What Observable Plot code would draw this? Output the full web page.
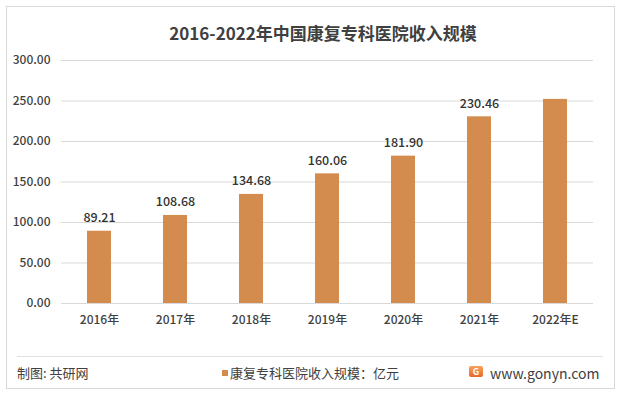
<!DOCTYPE html>
<html>
<head>
<meta charset="utf-8">
<script src="https://cdn.jsdelivr.net/npm/d3@7"></script>
<script src="https://cdn.jsdelivr.net/npm/@observablehq/plot@0.6"></script>
<style>
  html, body { margin: 0; padding: 0; background: #fff; }
  #wrap { position: relative; width: 620px; height: 394px; overflow: hidden; font-family: "Noto Sans CJK SC", "Noto Sans", sans-serif; }
  #frame { position: absolute; left: 6px; top: 6px; width: 607px; height: 381px; border: 1px solid #d9d9d9; }
  #title { position: absolute; left: 0; width: 646px; top: 20px; text-align: center; font-size: 17px; font-weight: bold; color: #404040; line-height: 26px; }
  #chart { position: absolute; left: 0; top: 40px; }
  #sep { position: absolute; left: 17px; width: 586px; top: 356px; border-top: 1px solid #e0e0e0; }
  .foot { position: absolute; top: 364px; font-size: 13px; line-height: 18px; color: #404040; }
  #sq { display: inline-block; width: 6px; height: 6px; background: #D48B4E; margin-right: 2px; vertical-align: 2px; }
  #logo { position: absolute; left: 469px; top: 366px; width: 14px; height: 11px; background: linear-gradient(#F7A35C, #E8692A); border-radius: 2px; color: #fff; font-size: 9px; line-height: 11px; text-align: center; font-weight: bold; }
</style>
</head>
<body>
<div id="wrap">
  <div id="frame"></div>
  <div id="title"></div>
  <div id="chart"></div>
  <div id="sep"></div>
  <div class="foot" style="left:17px;">制图: 共研网</div>
  <div class="foot" style="left:222px;"><span id="sq"></span>康复专科医院收入规模：亿元</div>
  <div id="logo">G</div>
  <div class="foot" style="left:490px; font-size:14px;">www.gonyn.com</div>
</div>
<script>
const title = "2016-2022年中国康复专科医院收入规模";
const years = ["2016年", "2017年", "2018年", "2019年", "2020年", "2021年", "2022年E"];
const values = [89.21, 108.68, 134.68, 160.06, 181.90, 230.46, 252.0];
const valueLabels = ["89.21", "108.68", "134.68", "160.06", "181.90", "230.46", ""];
const yTicks = [0, 50, 100, 150, 200, 250, 300];

document.getElementById("title").textContent = title;

const data = years.map((y, i) => ({year: y, value: values[i], label: valueLabels[i]}));

const chart = Plot.plot({
  width: 620,
  height: 303,
  marginTop: 20,
  marginBottom: 40,
  marginLeft: 61,
  marginRight: 27,
  style: { fontFamily: "'Noto Sans CJK SC', 'Noto Sans', sans-serif", fontSize: "12px", color: "#404040", background: "transparent" },
  x: { domain: years, paddingInner: 0.68, paddingOuter: 0.34, label: null, tickSize: 0, tickPadding: 12 },
  y: { domain: [0, 300], ticks: yTicks, label: null, tickSize: 0, tickPadding: 11, tickFormat: d3.format(".2f") },
  marks: [
    Plot.gridY(yTicks, { stroke: "#d9d9d9", strokeOpacity: 1, strokeWidth: 1 }),
    Plot.barY(data, { x: "year", y: "value", fill: "#D48B4E" }),
    Plot.text(data, { x: "year", y: "value", text: "label", dy: -13, fill: "#333", fontSize: 12.5, fontWeight: 500 }),
    Plot.axisX({ tickSize: 0, tickPadding: 12, fontSize: 12, fill: "#404040", fontWeight: 500, label: null }),
    Plot.axisY({ ticks: yTicks, tickSize: 0, tickPadding: 11, tickFormat: d3.format(".2f"), fontSize: 12, fill: "#404040", fontWeight: 500, label: null })
  ]
});
document.getElementById("chart").appendChild(chart);
</script>
</body>
</html>
